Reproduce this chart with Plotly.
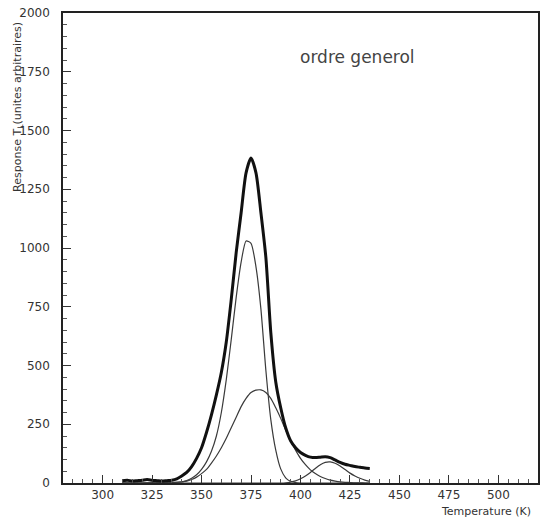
import plotly.graph_objects as go

# Temperatures (K) for the measured TL glow curve
temp_data = [310, 312.5, 315, 317.5, 320, 322.5, 325, 327.5, 330, 332.5, 335, 337.5,
             340, 342.5, 345, 347.5, 350, 352.5, 355, 357.5, 360, 362.5, 365, 367.5,
             370, 372.5, 375, 377.5, 380, 382.5, 385, 387.5, 390, 392.5, 395, 397.5,
             400, 402.5, 405, 407.5, 410, 412.5, 415, 417.5, 420, 422.5, 425, 427.5,
             430, 432.5, 435]
resp_data = [10, 12, 8, 10, 12, 15, 12, 10, 8, 10, 12, 18,
             30, 45, 70, 105, 150, 215, 290, 375, 470, 600, 780, 980,
             1150, 1320, 1383, 1320, 1150, 960, 640, 430, 320, 235, 180, 150,
             130, 118, 110, 108, 110, 112, 108, 98, 88, 80, 75, 70,
             67, 64, 62]

# Fitted components (general order)
temp_fit = [310, 320, 330, 335, 340, 342.5, 345, 347.5, 350, 352.5, 355, 357.5, 360, 362.5,
            365, 367.5, 370, 372.5, 375, 377.5, 380, 382.5, 385, 387.5, 390, 392.5,
            395, 397.5, 400, 402.5, 405, 407.5, 410, 412.5, 415, 417.5, 420, 422.5,
            425, 427.5, 430, 432.5, 435]
peak1 = [0, 0, 1, 2, 5, 10, 20, 35, 58, 90, 135, 200, 300, 440,
         610, 790, 940, 1030, 1020, 920, 740, 480, 270, 140, 60, 22,
         7, 2, 0, 0, 0, 0, 0, 0, 0, 0, 0, 0,
         0, 0, 0, 0, 0]
peak2 = [0, 0, 1, 2, 5, 8, 15, 25, 40, 58, 85, 115, 150, 190,
         235, 280, 325, 360, 385, 395, 396, 385, 360, 320, 275, 225,
         180, 140, 105, 78, 56, 40, 28, 19, 12, 8, 5, 3,
         2, 1, 1, 0, 0]
peak3 = [0, 0, 0, 0, 0, 0, 0, 0, 0, 0, 0, 0, 0, 0,
         0, 0, 0, 0, 0, 0, 0, 0, 0, 0, 0, 1,
         4, 9, 18, 30, 45, 62, 78, 88, 90, 84, 72, 57,
         42, 30, 20, 12, 7]

x_ticks = [300, 325, 350, 375, 400, 425, 450, 475, 500]
y_ticks = [0, 250, 500, 750, 1000, 1250, 1500, 1750, 2000]

FONT = "DejaVu Sans"

fig = go.Figure()
for comp in (peak1, peak2, peak3):
    fig.add_trace(go.Scatter(x=temp_fit, y=comp, mode="lines",
                             line=dict(color="#3a3a3a", width=1.2, shape="spline",
                                       smoothing=0.6),
                             showlegend=False, hoverinfo="skip"))
fig.add_trace(go.Scatter(x=temp_data, y=resp_data, mode="lines",
                         line=dict(color="#111111", width=3.0, shape="spline",
                                   smoothing=0.7),
                         showlegend=False))

axis_common = dict(showgrid=False, zeroline=False, showline=True, linecolor="#222222",
                   linewidth=1.6, mirror=True, ticks="inside", tickcolor="#333333",
                   ticklen=8, tickwidth=1.2, automargin=False,
                   ticklabeloverflow="allow",
                   tickfont=dict(family=FONT, size=12, color="#333333"))

fig.update_xaxes(range=[280, 520], tickvals=x_ticks, ticktext=[str(v) for v in x_ticks],
                 minor=dict(dtick=5, tick0=300, ticks="inside", ticklen=4,
                            tickcolor="#555555", tickwidth=1),
                 **axis_common)
fig.update_yaxes(range=[0, 2000], tickvals=y_ticks, ticktext=[str(v) for v in y_ticks],
                 minor=dict(dtick=50, tick0=0, ticks="inside", ticklen=4,
                            tickcolor="#555555", tickwidth=1),
                 ticklabelstandoff=9,
                 **axis_common)

fig.add_annotation(x=0.621, y=0.906, xref="paper", yref="paper", text="ordre generol",
                   showarrow=False, xanchor="center", yanchor="middle",
                   font=dict(family=FONT, size=17, color="#444444"))
fig.add_annotation(x=0.99, y=-0.06, xref="paper", yref="paper", text="Temperature (K)",
                   showarrow=False, xanchor="right", yanchor="middle",
                   font=dict(family=FONT, size=11, color="#333333"))
fig.add_annotation(x=-0.095, y=0.80, xref="paper", yref="paper",
                   text="Response T<sub>L</sub>(unites arbitraires)", textangle=-90,
                   showarrow=False, xanchor="center", yanchor="middle",
                   font=dict(family=FONT, size=11, color="#333333"))

fig.update_layout(width=540, height=520, paper_bgcolor="white", plot_bgcolor="white",
                  margin=dict(l=63, r=2, t=13, b=37), showlegend=False)

# remove the default page margin so the figure fills the 540x520 window
fig.write_html("out.html", config={"displayModeBar": False},
               post_script="document.body.style.margin='0px';")
